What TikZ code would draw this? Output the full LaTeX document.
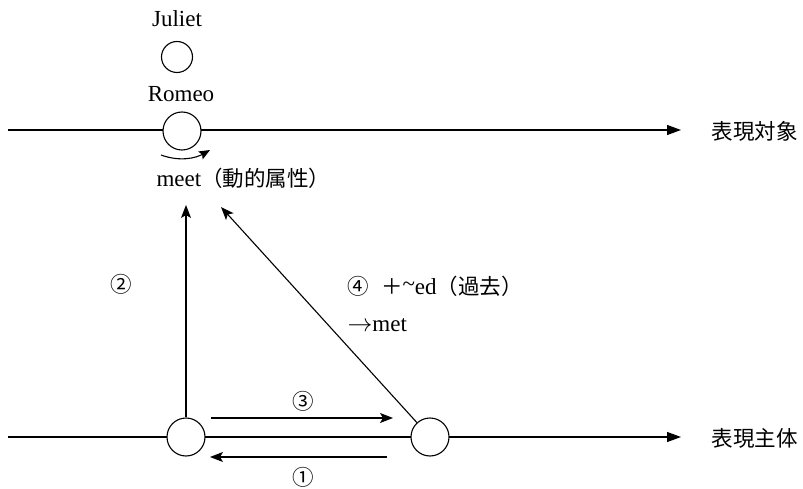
\documentclass[tikz,border=0pt]{standalone}
\usepackage{fontspec}
\setmainfont{Liberation Serif}
\newfontfamily\cjk{Noto Sans CJK JP}
\usetikzlibrary{arrows.meta}
\begin{document}
\begin{tikzpicture}[x=1pt,y=-1pt,
  line width=1.1pt,
  ent/.style={circle,draw,fill=white,minimum size=38pt,inner sep=0pt,line width=1.1pt},
  sent/.style={circle,draw,fill=white,minimum size=31pt,inner sep=0pt,line width=1.1pt},
  lbl/.style={inner sep=0pt,font=\fontsize{23}{27}\selectfont},
  jlbl/.style={inner sep=0pt,font=\fontsize{21.5}{26}\selectfont\cjk},
  axis/.style={-{Triangle[length=14pt,width=10pt]}},
  arr/.style={-{Stealth[length=13pt,width=10pt,inset=3pt]}}]
\useasboundingbox (0,0) rectangle (803,489);
% axes
\coordinate (tl) at (8,130);
\coordinate (tr) at (681,130);
\coordinate (bl) at (8,437);
\coordinate (br) at (681,437);
\draw[axis] (tl) -- (tr);
\draw[axis] (bl) -- (br);
% entities
\node[sent] (jul) at (177,57) {};
\node[ent] (rom) at (182,131) {};
\node[ent] (s1) at (186,437) {};
\node[ent] (s2) at (430,437) {};
% texts
\node[lbl] (tjul) at (177,19) {Juliet};
\node[lbl] (trom) at (181,94) {Romeo};
\node[lbl,anchor=west] (tmeet) at (156,178) {meet{\fontsize{21.5}{26}\selectfont\cjk（動的属性）}};
\node[jlbl,anchor=west] (tobj) at (711,131) {表現対象};
\node[jlbl,anchor=west] (tsub) at (711,438) {表現主体};
\node[jlbl] (n2) at (121,284) {②};
\node[jlbl] (n3) at (303,401) {③};
\node[jlbl] (n1) at (303,477) {①};
\node[lbl,anchor=west] (n4) at (347,286) {{\fontsize{21.5}{26}\selectfont\cjk ④\hspace{12pt}＋}\raisebox{3pt}{\textasciitilde}ed{\fontsize{21.5}{26}\selectfont\cjk（過去）}};
\node[lbl,anchor=west] (tmet) at (347,325) {$\rightarrow$met};
% curved arrow under Romeo
\coordinate (ca) at (161,155);
\coordinate (cb) at (210,150);
\draw[line width=1.1pt,-{Stealth[length=11pt,width=9pt,inset=2pt]}] (ca) .. controls (180,162) and (196,158) .. (cb);
% arrows
\coordinate (t2) at (186,205);
\coordinate (t4) at (221,207);
\draw[arr] (s1) -- (t2);
\draw[arr] (s2) -- (t4);
\coordinate (a3s) at (211,418);
\coordinate (a3e) at (393,418);
\coordinate (a1s) at (387,457);
\coordinate (a1e) at (210,457);
\draw[arr] (a3s) -- (a3e);
\draw[arr] (a1s) -- (a1e);
\end{tikzpicture}
\end{document}
